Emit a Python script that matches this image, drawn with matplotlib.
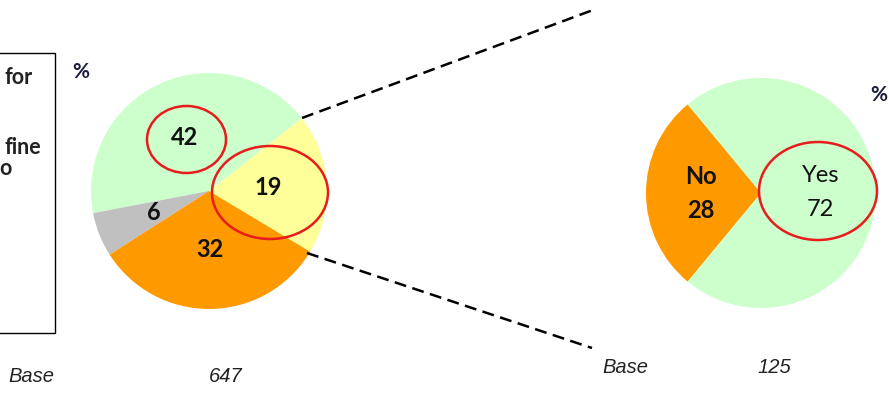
import numpy as np
import matplotlib.pyplot as plt
from matplotlib.patches import Ellipse, Rectangle

# datos del grafico
main_values = [19, 42, 6, 32]          # amarillo, verde, gris, naranja (antihorario)
main_colors = ['#FFFF99', '#CCFFCC', '#C0C0C0', '#FF9900']
sub_labels = ['No', 'Yes']
sub_values = [28, 72]
sub_colors = ['#FF9900', '#CCFFCC']
bases = [647, 125]
box_text = ['for', 'fine', 'o']

W, H = 889, 394

def py(y):
    # coordenada en pixeles (desde arriba) -> eje y
    return H - y

fig = plt.figure(figsize=(W / 100, H / 100), dpi=100)
ax = fig.add_axes([0, 0, 1, 1])

num_font = dict(family=['Lato', 'DejaVu Sans'], fontsize=17, color='#111111')

# pastel principal
c1 = (209, py(191))
r1 = 118
wedges1, _ = ax.pie(main_values, colors=main_colors, startangle=-31, counterclock=True,
                    center=c1, radius=r1, wedgeprops=dict(linewidth=0))
for w, v in zip(wedges1, main_values):
    ang = np.deg2rad((w.theta1 + w.theta2) / 2)
    ax.text(c1[0] + 0.5 * r1 * np.cos(ang), c1[1] + 0.5 * r1 * np.sin(ang), str(v),
            ha='center', va='center', fontweight='bold', **num_font)

# pastel secundario
c2 = (761, py(193))
r2 = 115
start2 = 180 - sub_values[0] / sum(sub_values) * 180
wedges2, _ = ax.pie(sub_values, colors=sub_colors, startangle=start2, counterclock=True,
                    center=c2, radius=r2, wedgeprops=dict(linewidth=0))
for w, lab, v in zip(wedges2, sub_labels, sub_values):
    ang = np.deg2rad((w.theta1 + w.theta2) / 2)
    x = c2[0] + 0.52 * r2 * np.cos(ang)
    y = c2[1] + 0.52 * r2 * np.sin(ang)
    wt = 'bold' if lab == 'No' else 'normal'
    ax.text(x, y + 17, lab, ha='center', va='center', fontweight=wt, **num_font)
    ax.text(x, y - 17, str(v), ha='center', va='center', fontweight=wt, **num_font)

# elipses rojas
for (ex, ey, ew, eh) in [(186.5, 139.5, 79, 67), (270, 192.5, 116, 93), (818, 191, 118, 98)]:
    ax.add_patch(Ellipse((ex, py(ey)), ew, eh, fill=False, edgecolor='#E81C1C', linewidth=1.8))

# lineas punteadas
ax.plot([302, 593], [py(118), py(10)], color='black', lw=1.8, linestyle=(0, (4.8, 2.6)))
ax.plot([307, 592], [py(253), py(348)], color='black', lw=1.8, linestyle=(0, (4.8, 2.6)))

# simbolos de porcentaje
for (x, y) in [(81, 72), (879, 95)]:
    ax.text(x, py(y), '%', ha='center', va='center', fontsize=15, fontweight='bold',
            color='#1C1C3C', family=['Lato', 'DejaVu Sans'])

# recuadro izquierdo
ax.add_patch(Rectangle((-10, py(333)), 65, 280, fill=False, edgecolor='black', linewidth=1))
for t, x, y in zip(box_text, [33, 41, 12], [77, 147, 168]):
    ax.text(x, py(y), t, ha='right', va='center',
            fontsize=15.5, fontweight='bold', color='#222222', family=['Lato', 'DejaVu Sans'])

# bases
base_font = dict(family=['Liberation Sans', 'DejaVu Sans'], fontsize=14.5, style='italic',
                 color='#222222')
ax.text(8, py(382), 'Base', ha='left', va='baseline', **base_font)
ax.text(226, py(382), str(bases[0]), ha='center', va='baseline', **base_font)
ax.text(602, py(373), 'Base', ha='left', va='baseline', **base_font)
ax.text(774, py(373), str(bases[1]), ha='center', va='baseline', **base_font)

ax.set_xlim(0, W)
ax.set_ylim(0, H)
ax.set_aspect('auto')
ax.axis('off')

plt.savefig('out.png', dpi=100)
